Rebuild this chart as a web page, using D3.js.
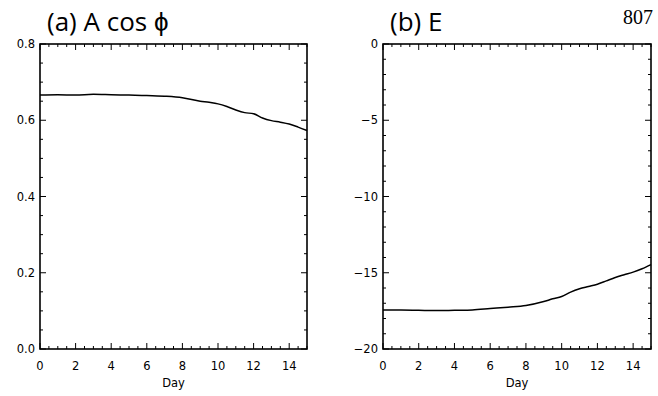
<!DOCTYPE html>
<html>
<head>
<meta charset="utf-8">
<script src="https://cdn.jsdelivr.net/npm/d3@7"></script>
<style>
  body { margin: 0; background: #fff; }
  svg { display: block; }
</style>
</head>
<body>
<svg id="chart" width="658" height="396"></svg>
<script>
// days sampled (half-day steps near the end where the curves bend)
const days = [0, 1, 2, 3, 4, 5, 6, 7, 8, 9, 9.5, 10, 10.5, 11, 11.5, 12, 12.5, 13, 13.5, 14, 14.5, 15];

// (a) A cos phi
const acosValues = [0.666, 0.667, 0.666, 0.668, 0.667, 0.666, 0.665, 0.663, 0.659, 0.650, 0.647,
  0.643, 0.636, 0.627, 0.620, 0.617, 0.606, 0.599, 0.595, 0.590, 0.582, 0.573];

// (b) E
const eValues = [-17.44, -17.44, -17.46, -17.48, -17.46, -17.44, -17.35, -17.26, -17.15, -16.89, -16.71,
  -16.56, -16.27, -16.05, -15.90, -15.75, -15.53, -15.31, -15.13, -14.96, -14.74, -14.47];

const xTicks = [0, 2, 4, 6, 8, 10, 12, 14];
const aTicks = [0.0, 0.2, 0.4, 0.6, 0.8];
const bTicks = [-20, -15, -10, -5, 0];

const svg = d3.select('#chart');

const plotTop = 44, plotBottom = 349;

function panel(opts) {
  const g = svg.append('g');
  const x = d3.scaleLinear().domain([0, 15]).range([opts.left, opts.right]);
  const y = d3.scaleLinear().domain(opts.domain).range([plotBottom, plotTop]);

  // minor ticks on all four sides
  const xMinor = d3.range(0, 15.01, 0.5);
  const yMinor = d3.range(opts.domain[0], opts.domain[1] + opts.minor / 2, opts.minor);

  const tickG = g.append('g').attr('stroke', '#000').attr('stroke-width', 1);
  xMinor.forEach((d) => {
    const len = xTicks.includes(d) ? 6 : 3;
    tickG.append('line').attr('x1', x(d)).attr('x2', x(d)).attr('y1', plotBottom).attr('y2', plotBottom - len);
    tickG.append('line').attr('x1', x(d)).attr('x2', x(d)).attr('y1', plotTop).attr('y2', plotTop + len);
  });
  yMinor.forEach((d) => {
    const major = opts.ticks.some((t) => Math.abs(t - d) < 1e-6);
    const len = major ? 6 : 3;
    tickG.append('line').attr('x1', opts.left).attr('x2', opts.left + len).attr('y1', y(d)).attr('y2', y(d));
    tickG.append('line').attr('x1', opts.right).attr('x2', opts.right - len).attr('y1', y(d)).attr('y2', y(d));
  });

  // frame
  g.append('rect')
    .attr('x', opts.left).attr('y', plotTop)
    .attr('width', opts.right - opts.left).attr('height', plotBottom - plotTop)
    .attr('fill', 'none').attr('stroke', '#000').attr('stroke-width', 1.6);

  // tick labels
  g.selectAll('.xl').data(xTicks).enter().append('text')
    .attr('x', (d) => x(d)).attr('y', 370)
    .attr('text-anchor', 'middle')
    .attr('font-family', 'DejaVu Sans, sans-serif').attr('font-size', 11.5)
    .text((d) => d);

  g.selectAll('.yl').data(opts.ticks).enter().append('text')
    .attr('x', opts.left - 5).attr('y', (d) => y(d) + 4)
    .attr('text-anchor', 'end')
    .attr('font-family', 'DejaVu Sans, sans-serif').attr('font-size', 11.5)
    .text((d) => opts.fmt(d));

  g.append('text')
    .attr('x', (opts.left + opts.right) / 2).attr('y', 387)
    .attr('text-anchor', 'middle')
    .attr('font-family', 'DejaVu Sans, sans-serif').attr('font-size', 11.5)
    .text('Day');

  g.append('text')
    .attr('x', opts.left + 7).attr('y', 31)
    .attr('font-family', 'Open Sans, sans-serif').attr('font-size', 26)
    .text(opts.title);

  const line = d3.line()
    .x((d, i) => x(days[i]))
    .y((d) => y(d))
    .curve(d3.curveMonotoneX);

  g.append('path')
    .datum(opts.values)
    .attr('d', line)
    .attr('fill', 'none')
    .attr('stroke', '#000')
    .attr('stroke-width', 1.5);
}

panel({
  left: 40, right: 307, domain: [0, 0.8], ticks: aTicks, minor: 0.05,
  values: acosValues, title: '(a) A cos \u03D5',
  fmt: (d) => d.toFixed(1)
});

panel({
  left: 383, right: 651, domain: [-20, 0], ticks: bTicks, minor: 1,
  values: eValues, title: '(b) E',
  fmt: (d) => (d < 0 ? '\u2212' + Math.abs(d) : d)
});

svg.append('text')
  .attr('x', 653).attr('y', 24)
  .attr('text-anchor', 'end')
  .attr('font-family', 'Liberation Serif, serif').attr('font-size', 20)
  .text('807');
</script>
</body>
</html>
